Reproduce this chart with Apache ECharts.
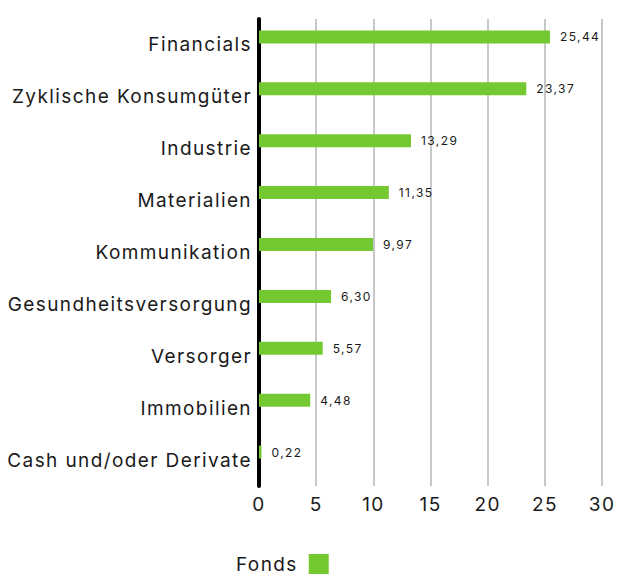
<!DOCTYPE html>
<html>
<head>
<meta charset="utf-8">
<script src="https://cdn.jsdelivr.net/npm/echarts@6/dist/echarts.min.js"></script>
<style>
  html, body { margin: 0; padding: 0; background: #fff; }
  #chart { width: 617px; height: 576px; }
  /* the typeface used for this factsheet runs wide; open up the tracking */
  #chart svg text { letter-spacing: 1.4px; }
</style>
</head>
<body>
<div id="chart"></div>
<script>
// Sector weights of the fund (%)
const sectors = [
  'Financials',
  'Zyklische Konsumgüter',
  'Industrie',
  'Materialien',
  'Kommunikation',
  'Gesundheitsversorgung',
  'Versorger',
  'Immobilien',
  'Cash und/oder Derivate'
];
const fondsWeights = [25.44, 23.37, 13.29, 11.35, 9.97, 6.30, 5.57, 4.48, 0.22];
const seriesName = 'Fonds';

const fontFamily = 'Inter, "DejaVu Sans", sans-serif';
const textColor = '#1a1a1a';

const chart = echarts.init(document.getElementById('chart'), null, { renderer: 'svg' });
chart.setOption({
  animation: false,
  textStyle: { fontFamily: fontFamily },
  grid: { left: 259, right: 13, top: 19, bottom: 90, containLabel: false },
  legend: {
    data: [seriesName],
    bottom: -3,
    left: 238,
    align: 'right',
    itemWidth: 20,
    itemHeight: 20,
    itemGap: 6,
    icon: 'rect',
    textStyle: { fontSize: 19, color: textColor, fontFamily: fontFamily, padding: [10, 6, 0, 0] }
  },
  xAxis: {
    type: 'value',
    min: 0,
    max: 30,
    interval: 5,
    axisLine: { show: false },
    axisTick: { show: false },
    splitLine: { show: true, lineStyle: { color: '#c8c8c8', width: 2 } },
    axisLabel: { fontSize: 19, color: textColor, margin: 9, fontFamily: fontFamily }
  },
  yAxis: {
    type: 'category',
    inverse: true,
    data: sectors,
    axisLine: { show: true, lineStyle: { color: '#000', width: 4 } },
    axisTick: { show: false },
    axisLabel: {
      fontSize: 19,
      color: textColor,
      margin: 7,
      fontFamily: fontFamily
    }
  },
  series: [{
    name: seriesName,
    type: 'bar',
    data: fondsWeights,
    barWidth: 13,
    barGap: '23%',
    itemStyle: { color: '#74c932' },
    label: {
      show: true,
      position: 'right',
      distance: 10,
      fontSize: 12,
      color: textColor,
      fontFamily: fontFamily,
      formatter: p => p.value.toFixed(2).replace('.', ',')
    }
  }, {
    // empty companion slot: keeps the fund bar in the upper half of each band
    type: 'bar',
    data: [],
    barWidth: 13
  }]
});
</script>
</body>
</html>
